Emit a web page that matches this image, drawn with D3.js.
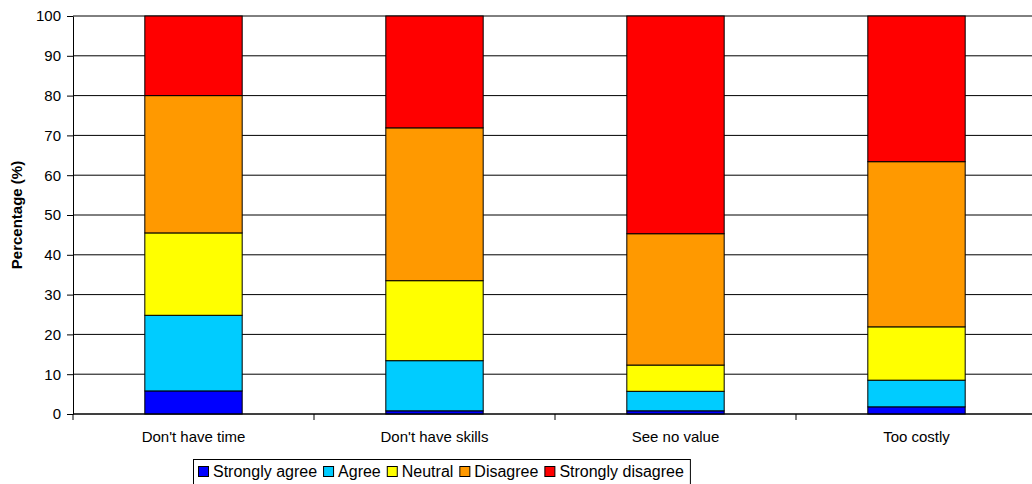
<!DOCTYPE html>
<html>
<head>
<meta charset="utf-8">
<script src="https://cdn.jsdelivr.net/npm/d3@7"></script>
<style>
  html, body { margin: 0; padding: 0; background: #fff; overflow: hidden; }
  svg { display: block; font-family: "Liberation Sans", Arial, sans-serif; }
</style>
</head>
<body>
<svg id="chart" width="1032" height="484"></svg>
<script>
// Barriers and their stacked response shares (%)
const categories = ["Don't have time", "Don't have skills", "See no value", "Too costly"];
const seriesNames = ["Strongly agree", "Agree", "Neutral", "Disagree", "Strongly disagree"];
const seriesColors = ["#0000ff", "#00ccff", "#ffff00", "#ff9900", "#ff0000"];
const stronglyAgree    = [5.8, 0.8, 0.8, 1.8];
const agree            = [19.0, 12.6, 4.9, 6.7];
const neutral          = [20.7, 20.1, 6.6, 13.4];
const disagree         = [34.5, 38.4, 33.0, 41.5];
const stronglyDisagree = [20.0, 28.1, 54.7, 36.6];
const yTicks = [0, 10, 20, 30, 40, 50, 60, 70, 80, 90, 100];

const seriesValues = [stronglyAgree, agree, neutral, disagree, stronglyDisagree];
const rows = categories.map((c, i) => {
  const r = { category: c };
  seriesNames.forEach((s, k) => { r[s] = seriesValues[k][i]; });
  return r;
});

const svg = d3.select("#chart");
const margin = { left: 73, top: 16, bottom: 414 };
const plotRight = 1037;

const x = d3.scaleBand().domain(categories).range([margin.left, plotRight]).paddingInner(0).paddingOuter(0);
const y = d3.scaleLinear().domain([0, 100]).range([margin.bottom, margin.top]);

// Horizontal gridlines
svg.append("g")
  .selectAll("line")
  .data(yTicks)
  .join("line")
  .attr("x1", margin.left)
  .attr("x2", plotRight)
  .attr("y1", d => y(d))
  .attr("y2", d => y(d))
  .attr("stroke", "#000")
  .attr("stroke-width", 1);

// Stacked bars
const stack = d3.stack().keys(seriesNames);
const layers = stack(rows);
const barWidth = x.bandwidth() * 0.404;

svg.append("g")
  .selectAll("g")
  .data(layers)
  .join("g")
  .attr("fill", (d, i) => seriesColors[i])
  .selectAll("rect")
  .data(d => d)
  .join("rect")
  .attr("x", d => x(d.data.category) + (x.bandwidth() - barWidth) / 2)
  .attr("width", barWidth)
  .attr("y", d => y(d[1]))
  .attr("height", d => y(d[0]) - y(d[1]))
  .attr("stroke", "#000")
  .attr("stroke-width", 1);

// Y axis
const yAxis = svg.append("g")
  .attr("transform", `translate(${margin.left},0)`)
  .call(d3.axisLeft(y).tickValues(yTicks).tickSize(6).tickSizeOuter(0).tickPadding(6));
yAxis.selectAll("text").attr("font-size", 15).attr("fill", "#000")
  .attr("font-family", "'Liberation Sans', Arial, sans-serif");
yAxis.selectAll("line").attr("stroke", "#000");
yAxis.select(".domain").attr("stroke", "#000");

// X axis with tick marks at category boundaries
const xAxis = svg.append("g").attr("transform", `translate(0,${margin.bottom})`);
xAxis.append("line").attr("x1", margin.left).attr("x2", plotRight).attr("stroke", "#000");
const bounds = categories.map(c => x(c)).concat([plotRight]);
xAxis.selectAll("line.tick")
  .data(bounds)
  .join("line")
  .attr("class", "tick")
  .attr("x1", d => d).attr("x2", d => d)
  .attr("y1", 0).attr("y2", 6)
  .attr("stroke", "#000");
xAxis.selectAll("text")
  .data(categories)
  .join("text")
  .attr("x", d => x(d) + x.bandwidth() / 2)
  .attr("y", 28)
  .attr("text-anchor", "middle")
  .attr("font-size", 15)
  .attr("fill", "#000")
  .text(d => d);

// Y axis title
svg.append("text")
  .attr("transform", `translate(22,${(margin.top + margin.bottom) / 2}) rotate(-90)`)
  .attr("text-anchor", "middle")
  .attr("font-size", 15)
  .attr("font-weight", "bold")
  .attr("fill", "#000")
  .text("Percentage (%)");

// Legend
const legend = svg.append("g");
const legendX = 193, legendY = 459;
let cx = legendX + 5;
seriesNames.forEach((name, i) => {
  const g = legend.append("g");
  g.append("rect")
    .attr("x", cx + 0.5).attr("y", legendY + 7.5)
    .attr("width", 10).attr("height", 10)
    .attr("fill", seriesColors[i])
    .attr("stroke", "#000");
  const t = g.append("text")
    .attr("x", cx + 15).attr("y", legendY + 18)
    .attr("font-size", 16)
    .attr("fill", "#000")
    .text(name);
  cx += 15 + t.node().getComputedTextLength() + 6;
});
legend.insert("rect", ":first-child")
  .attr("x", legendX + 0.5).attr("y", legendY + 0.5)
  .attr("width", cx - legendX)
  .attr("height", 26)
  .attr("fill", "#fff")
  .attr("stroke", "#000");
</script>
</body>
</html>
